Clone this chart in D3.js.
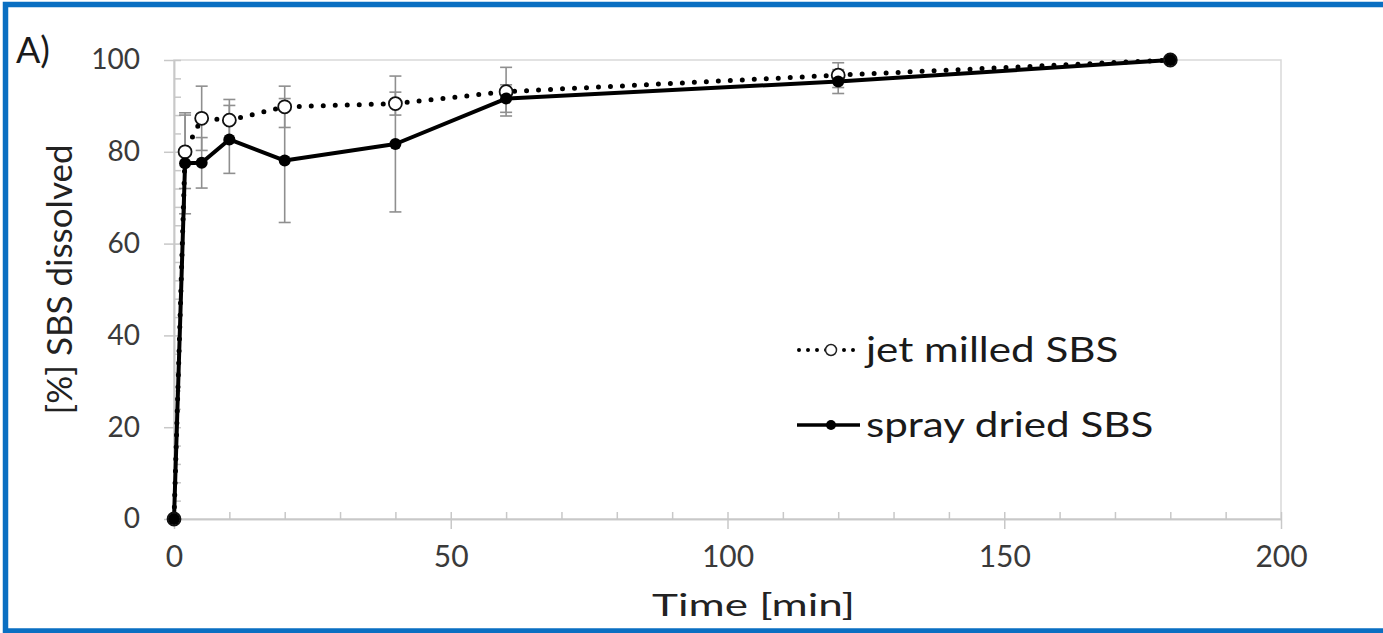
<!DOCTYPE html>
<html>
<head>
<meta charset="utf-8">
<script src="https://cdn.jsdelivr.net/npm/d3@7"></script>
<style>
    body { margin: 0; background: #fff; }
    svg { display: block; font-family: Lato, "Open Sans", sans-serif; }
    .tick-label text { fill: #3a3a3a; }
    .x-major text { font-size: 30px; }
    .y-major text { font-size: 28px; }
    .axis path, .axis line { stroke: #c8c8c8; stroke-width: 1.5; }
    .axis-title { fill: #222; font-size: 31px; }
    .y-title { font-size: 35px; }
    .legend-text { fill: #1a1a1a; font-size: 34px; }
    .err { stroke: #8f8f8f; stroke-width: 1.6; fill: none; }
</style>
</head>
<body>
<div id="chart"></div>
<script>
// dissolution profile
var times = [0, 2, 5, 10, 20, 40, 60, 120, 180];
var jetMilled = [0, 80, 87.3, 86.9, 89.8, 90.5, 93.1, 96.7, 100];
var jetMilledErr = [0, 8, 7, 4.5, 4.5, 2.5, 5.3, 2.7, 0.3];
var sprayDried = [0, 77.5, 77.6, 82.7, 78.1, 81.7, 91.6, 95.3, 100];
var sprayDriedErr = [0, 11, 5.5, 7.4, 13.5, 14.8, 3, 2.6, 0.3];

var xTicks = [0, 50, 100, 150, 200];
var yTicks = [0, 20, 40, 60, 80, 100];
var legendLabels = ["jet milled SBS", "spray dried SBS"];

var fullWidth = 1383, fullHeight = 633;
var margin = { top: 60, right: 102, bottom: 114, left: 174 };
var width = fullWidth - margin.left - margin.right,
    height = fullHeight - margin.top - margin.bottom;

var root = d3.select("#chart").append("svg")
    .attr("width", fullWidth)
    .attr("height", fullHeight);

// the source picture has wide lettering, so some labels get a horizontal stretch
function wideText(parent, x, y, sx, cls, anchor, txt) {
    return parent.append("g")
        .attr("transform", "translate(" + x + "," + y + ")scale(" + sx + ",1)")
        .append("text")
        .attr("class", cls)
        .attr("text-anchor", anchor)
        .text(txt);
}

// blue frame (open on the right side)
root.append("path")
    .attr("d", "M" + fullWidth + ",4.5 L5.5,4.5 L5.5,631 L" + fullWidth + ",631")
    .attr("fill", "none")
    .attr("stroke", "#0a6fc2")
    .attr("stroke-width", 5.5);

var svg = root.append("g")
    .attr("transform", "translate(" + margin.left + "," + margin.top + ")");

var x = d3.scaleLinear().domain([0, 200]).range([0, width]);
var y = d3.scaleLinear().domain([0, 100]).range([height, 0]);

// plot area outline
svg.append("rect")
    .attr("width", width)
    .attr("height", height)
    .attr("fill", "none")
    .attr("stroke", "#d9d9d9")
    .attr("stroke-width", 1.5);

// minor ticks (inside)
svg.append("g")
    .attr("class", "axis")
    .attr("transform", "translate(0," + height + ")")
    .call(d3.axisBottom(x).tickValues(d3.range(0, 201, 10)).tickSize(-7).tickSizeOuter(0).tickFormat(""));
svg.append("g")
    .attr("class", "axis")
    .call(d3.axisLeft(y).tickValues(d3.range(0, 101, 4)).tickSize(-7).tickSizeOuter(0).tickFormat(""));

// major ticks + labels
svg.append("g")
    .attr("class", "axis tick-label x-major")
    .attr("transform", "translate(0," + height + ")")
    .call(d3.axisBottom(x).tickValues(xTicks).tickSize(10).tickSizeOuter(0).tickPadding(17));
svg.append("g")
    .attr("class", "axis tick-label y-major")
    .call(d3.axisLeft(y).tickValues(yTicks).tickSize(10).tickSizeOuter(0).tickPadding(24));
root.selectAll(".tick-label").attr("font-family", null).attr("font-size", null);

// axis titles
wideText(svg, x(100) + 26, height + 97, 1.42, "axis-title", "middle", "Time [min]");

svg.append("text")
    .attr("class", "axis-title y-title")
    .attr("text-anchor", "middle")
    .attr("transform", "translate(" + (-102) + "," + (height / 2 - 10) + ")rotate(-90)")
    .text("[%] SBS dissolved");

root.append("text")
    .attr("x", 16)
    .attr("y", 63)
    .attr("fill", "#1a1a1a")
    .attr("font-size", 36)
    .text("A)");

var jetData = times.map(function(t, i) { return { t: t, v: jetMilled[i], e: jetMilledErr[i] }; });
var sprayData = times.map(function(t, i) { return { t: t, v: sprayDried[i], e: sprayDriedErr[i] }; });

// error bars
function drawErrors(data, cls) {
    var g = svg.append("g").attr("class", cls);
    data.filter(function(d) { return d.e > 0; }).forEach(function(d) {
        var cx = x(d.t), top = y(d.v + d.e), bot = y(d.v - d.e);
        g.append("line").attr("class", "err").attr("x1", cx).attr("x2", cx).attr("y1", top).attr("y2", bot);
        g.append("line").attr("class", "err").attr("x1", cx - 6).attr("x2", cx + 6).attr("y1", top).attr("y2", top);
        g.append("line").attr("class", "err").attr("x1", cx - 6).attr("x2", cx + 6).attr("y1", bot).attr("y2", bot);
    });
}
drawErrors(jetData, "jet-err");
drawErrors(sprayData, "spray-err");

var line = d3.line()
    .x(function(d) { return x(d.t); })
    .y(function(d) { return y(d.v); });

svg.append("path")
    .datum(jetData)
    .attr("d", line)
    .attr("fill", "none")
    .attr("stroke", "#000")
    .attr("stroke-width", 5)
    .attr("stroke-linecap", "round")
    .attr("stroke-dasharray", "0,12");

svg.append("path")
    .datum(sprayData)
    .attr("d", line)
    .attr("fill", "none")
    .attr("stroke", "#000")
    .attr("stroke-width", 4)
    .attr("stroke-linejoin", "round");

svg.selectAll(".jet-point")
    .data(jetData)
    .enter().append("circle")
    .attr("class", "jet-point")
    .attr("cx", function(d) { return x(d.t); })
    .attr("cy", function(d) { return y(d.v); })
    .attr("r", 6.5)
    .attr("fill", "#fff")
    .attr("stroke", "#111")
    .attr("stroke-width", 1.8);

svg.selectAll(".spray-point")
    .data(sprayData)
    .enter().append("circle")
    .attr("class", "spray-point")
    .attr("cx", function(d) { return x(d.t); })
    .attr("cy", function(d) { return y(d.v); })
    .attr("r", 6)
    .attr("fill", "#000");

// legend
var legend = root.append("g").attr("transform", "translate(797,0)");

legend.append("line")
    .attr("x1", 2).attr("x2", 63).attr("y1", 350).attr("y2", 350)
    .attr("stroke", "#000").attr("stroke-width", 4)
    .attr("stroke-linecap", "round").attr("stroke-dasharray", "0,9");
legend.append("circle")
    .attr("cx", 34).attr("cy", 350).attr("r", 5.5)
    .attr("fill", "#fff").attr("stroke", "#222").attr("stroke-width", 1.5);
wideText(legend, 69, 362, 1.24, "legend-text", "start", legendLabels[0]);

legend.append("line")
    .attr("x1", 0).attr("x2", 63).attr("y1", 425).attr("y2", 425)
    .attr("stroke", "#000").attr("stroke-width", 3.5);
legend.append("circle")
    .attr("cx", 34).attr("cy", 425).attr("r", 5)
    .attr("fill", "#000");
wideText(legend, 69, 437, 1.24, "legend-text", "start", legendLabels[1]);
</script>
</body>
</html>
